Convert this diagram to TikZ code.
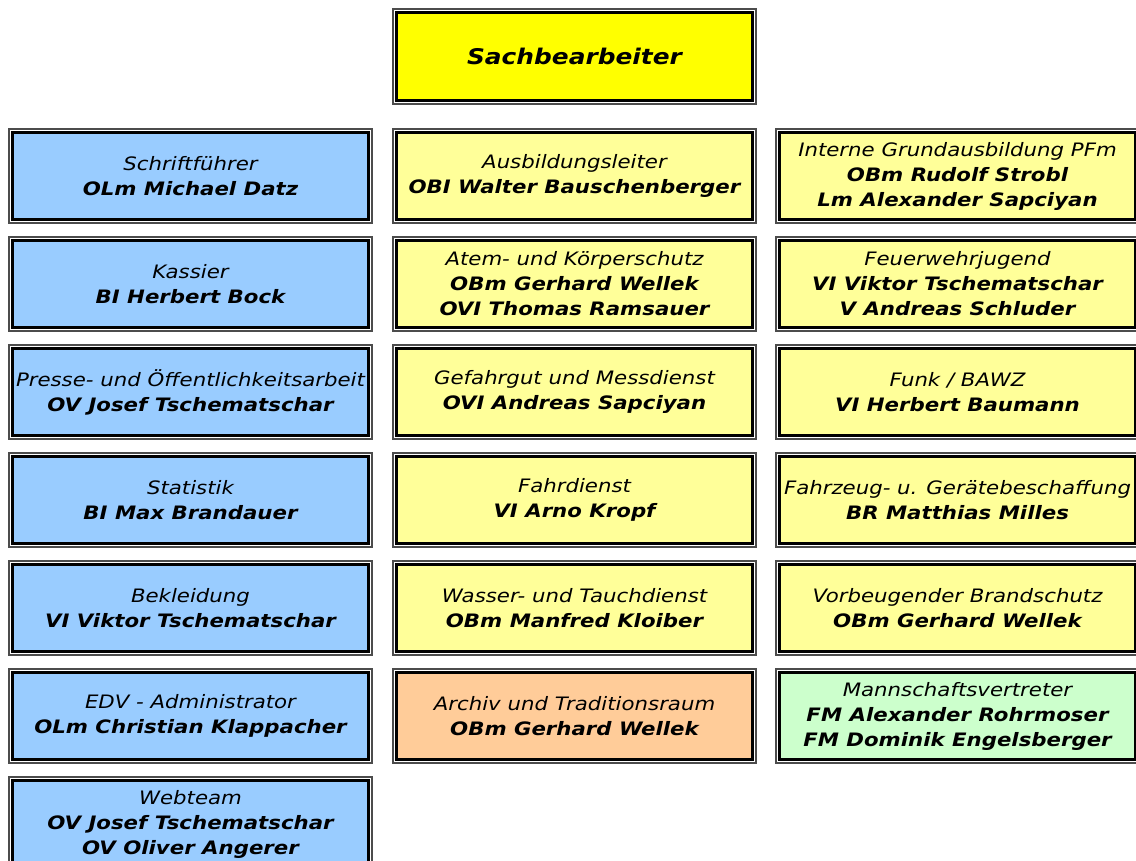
\documentclass[tikz,border=0pt]{standalone}
\usepackage{fontspec}
\setmainfont{DejaVu Sans}[FakeStretch=1.15]
\definecolor{cblue}{HTML}{99CCFF}
\definecolor{cyel}{HTML}{FFFF99}
\definecolor{ctitle}{HTML}{FFFF00}
\definecolor{corange}{HTML}{FFCC99}
\definecolor{cgreen}{HTML}{CCFFCC}
\tikzset{
  box/.style={draw=black, line width=3pt, minimum width=356pt, minimum height=87pt,
    inner sep=0pt, outer sep=0pt, align=center,
    font=\fontsize{18.5}{25}\selectfont\itshape},
  frame/.style={draw=black!70, line width=1.6pt},
}
\newcommand\frameit[1]{\draw[frame] ([shift={(-3.75pt,3.75pt)}]#1.north west) rectangle ([shift={(3.75pt,-3.75pt)}]#1.south east);}
\begin{document}
\begin{tikzpicture}[x=1pt,y=-1pt]
\useasboundingbox (0,0) rectangle (1136,861);
\clip (0,0) rectangle (1136,861);
% title
\node[box, fill=ctitle, minimum height=88pt, font=\fontsize{21.6}{26}\selectfont\bfseries\itshape] (t) at (574.5,56.5) {Sachbearbeiter};
% left column
\node[box, fill=cblue] (l1) at (190.5,176) {Schriftführer\\\textbf{OLm Michael Datz}};
\node[box, fill=cblue] (l2) at (190.5,284) {Kassier\\\textbf{BI Herbert Bock}};
\node[box, fill=cblue] (l3) at (190.5,392) {Presse- und Öffentlichkeitsarbeit\\\textbf{OV Josef Tschematschar}};
\node[box, fill=cblue] (l4) at (190.5,500) {Statistik\\\textbf{BI Max Brandauer}};
\node[box, fill=cblue] (l5) at (190.5,608) {Bekleidung\\\textbf{VI Viktor Tschematschar}};
\node[box, fill=cblue] (l6) at (190.5,716) {EDV - Administrator\\\textbf{OLm Christian Klappacher}};
\node[box, fill=cblue] (l7) at (190.5,824) {Webteam\\\textbf{OV Josef Tschematschar}\\\textbf{OV Oliver Angerer}};
% middle column
\node[box, fill=cyel] (m1) at (574.5,176) {Ausbildungsleiter\\\textbf{OBI Walter Bauschenberger}};
\node[box, fill=cyel] (m2) at (574.5,284) {Atem- und Körperschutz\\\textbf{OBm Gerhard Wellek}\\\textbf{OVI Thomas Ramsauer}};
\node[box, fill=cyel] (m3) at (574.5,392) {Gefahrgut und Messdienst\\\textbf{OVI Andreas Sapciyan}};
\node[box, fill=cyel] (m4) at (574.5,500) {Fahrdienst\\\textbf{VI Arno Kropf}};
\node[box, fill=cyel] (m5) at (574.5,608) {Wasser- und Tauchdienst\\\textbf{OBm Manfred Kloiber}};
\node[box, fill=corange] (m6) at (574.5,716) {Archiv und Traditionsraum\\\textbf{OBm Gerhard Wellek}};
% right column
\node[box, fill=cyel] (r1) at (957.5,176) {Interne Grundausbildung PFm\\\textbf{OBm Rudolf Strobl}\\\textbf{Lm Alexander Sapciyan}};
\node[box, fill=cyel] (r2) at (957.5,284) {Feuerwehrjugend\\\textbf{VI Viktor Tschematschar}\\\textbf{V Andreas Schluder}};
\node[box, fill=cyel] (r3) at (957.5,392) {Funk / BAWZ\\\textbf{VI Herbert Baumann}};
\node[box, fill=cyel] (r4) at (957.5,500) {Fahrzeug- u. Gerätebeschaffung\\\textbf{BR Matthias Milles}};
\node[box, fill=cyel] (r5) at (957.5,608) {Vorbeugender Brandschutz\\\textbf{OBm Gerhard Wellek}};
\node[box, fill=cgreen] (r6) at (957.5,716) {Mannschaftsvertreter\\\textbf{FM Alexander Rohrmoser}\\\textbf{FM Dominik Engelsberger}};
% frames
\foreach \n in {t,l1,l2,l3,l4,l5,l6,l7,m1,m2,m3,m4,m5,m6,r1,r2,r3,r4,r5,r6} {\frameit{\n}}
\end{tikzpicture}
\end{document}
